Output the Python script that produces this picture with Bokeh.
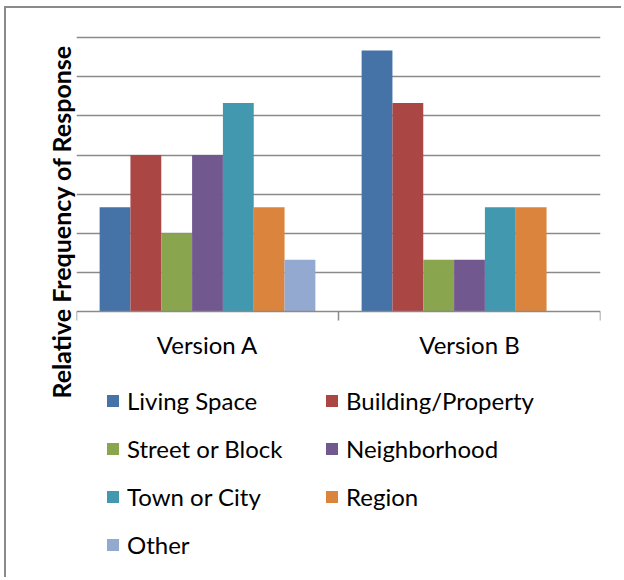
import numpy as np
from bokeh.plotting import figure
from bokeh.models import (Range1d, FixedTicker, Legend, LegendItem, Title,
                          ColumnDataSource)
from bokeh.transform import dodge
from bokeh.embed import file_html
from bokeh.resources import INLINE

versions = ["Version A", "Version B"]
series = ["Living Space", "Building/Property", "Street or Block",
          "Neighborhood", "Town or City", "Region", "Other"]
version_a = [2.67, 4.0, 2.0, 4.0, 5.33, 2.67, 1.33]
version_b = [6.67, 5.33, 1.33, 1.33, 2.67, 2.67, 0.0]
colors = ["#4572A7", "#AA4643", "#89A54E", "#71588F", "#4198AF", "#DB843D", "#93A9CF"]
y_label = "Relative Frequency of Response"

FONT = "Lato"
GRID = "#8a8a8a"

# frame reaches down to the bottom so that the legend below the axis is drawn inside it
p = figure(width=617, height=571, output_backend="svg", toolbar_location=None,
           x_range=Range1d(0, len(versions)), y_range=Range1d(-6.73, 7.05),
           min_border_left=70, min_border_right=23, min_border_top=27,
           min_border_bottom=4)
p.outline_line_color = None
p.yaxis.visible = False
p.ygrid.ticker = FixedTicker(ticks=list(range(1, 8)))
p.ygrid.grid_line_color = GRID
p.ygrid.grid_line_width = 1.5
p.xgrid.grid_line_color = None

centers = [i + 0.5 for i in range(len(versions))]
n_slots = len(series) + 1.5
bw = 1.0 / n_slots
renderers = {}
for i, name in enumerate(series):
    src = ColumnDataSource(dict(x=centers, top=[version_a[i], version_b[i]]))
    off = (i - (len(series) - 1) / 2) * bw
    r = p.vbar(x=dodge("x", off), top="top", width=bw, bottom=0, source=src,
               fill_color=colors[i], line_color=None)
    renderers[name] = r

# two-column legend read row by row: column 1 holds even items, column 2 odd items
order = series[0::2] + series[1::2]
items = [LegendItem(label=n, renderers=[renderers[n]]) for n in order]

ax = p.xaxis[0]
ax.fixed_location = 0
ax.ticker = FixedTicker(ticks=centers, minor_ticks=list(range(len(versions) + 1)))
ax.major_label_overrides = {c: v for c, v in zip(centers, versions)}
ax.major_tick_line_color = None
ax.major_tick_out = 0
ax.major_tick_in = 0
ax.minor_tick_line_color = GRID
ax.minor_tick_line_width = 1.5
ax.minor_tick_out = 9
ax.minor_tick_in = 0
ax.axis_line_color = GRID
ax.axis_line_width = 1.5
ax.major_label_text_font = FONT
ax.major_label_text_font_size = "24px"
ax.major_label_text_color = "black"
ax.major_label_standoff = 9

legend = Legend(items=items, ncols=2, location=(29, 16),
                label_text_font=FONT, label_text_font_size="24px",
                label_text_color="black", label_width=178,
                glyph_width=15, glyph_height=15, label_standoff=7,
                spacing=19, padding=0, margin=0,
                border_line_color=None, background_fill_alpha=0)
p.add_layout(legend)

ttl = Title(text=y_label, align="left", offset=177, vertical_align="middle",
            text_font=FONT, text_font_size="25px", text_font_style="bold",
            text_color="black", standoff=0)
p.add_layout(ttl, "left")

p.styles = {"margin-left": "4px", "margin-top": "6px",
            "border-left": "2px solid #8a8a8a", "border-top": "2px solid #8a8a8a"}

open("out.html", "w").write(file_html(p, INLINE))
